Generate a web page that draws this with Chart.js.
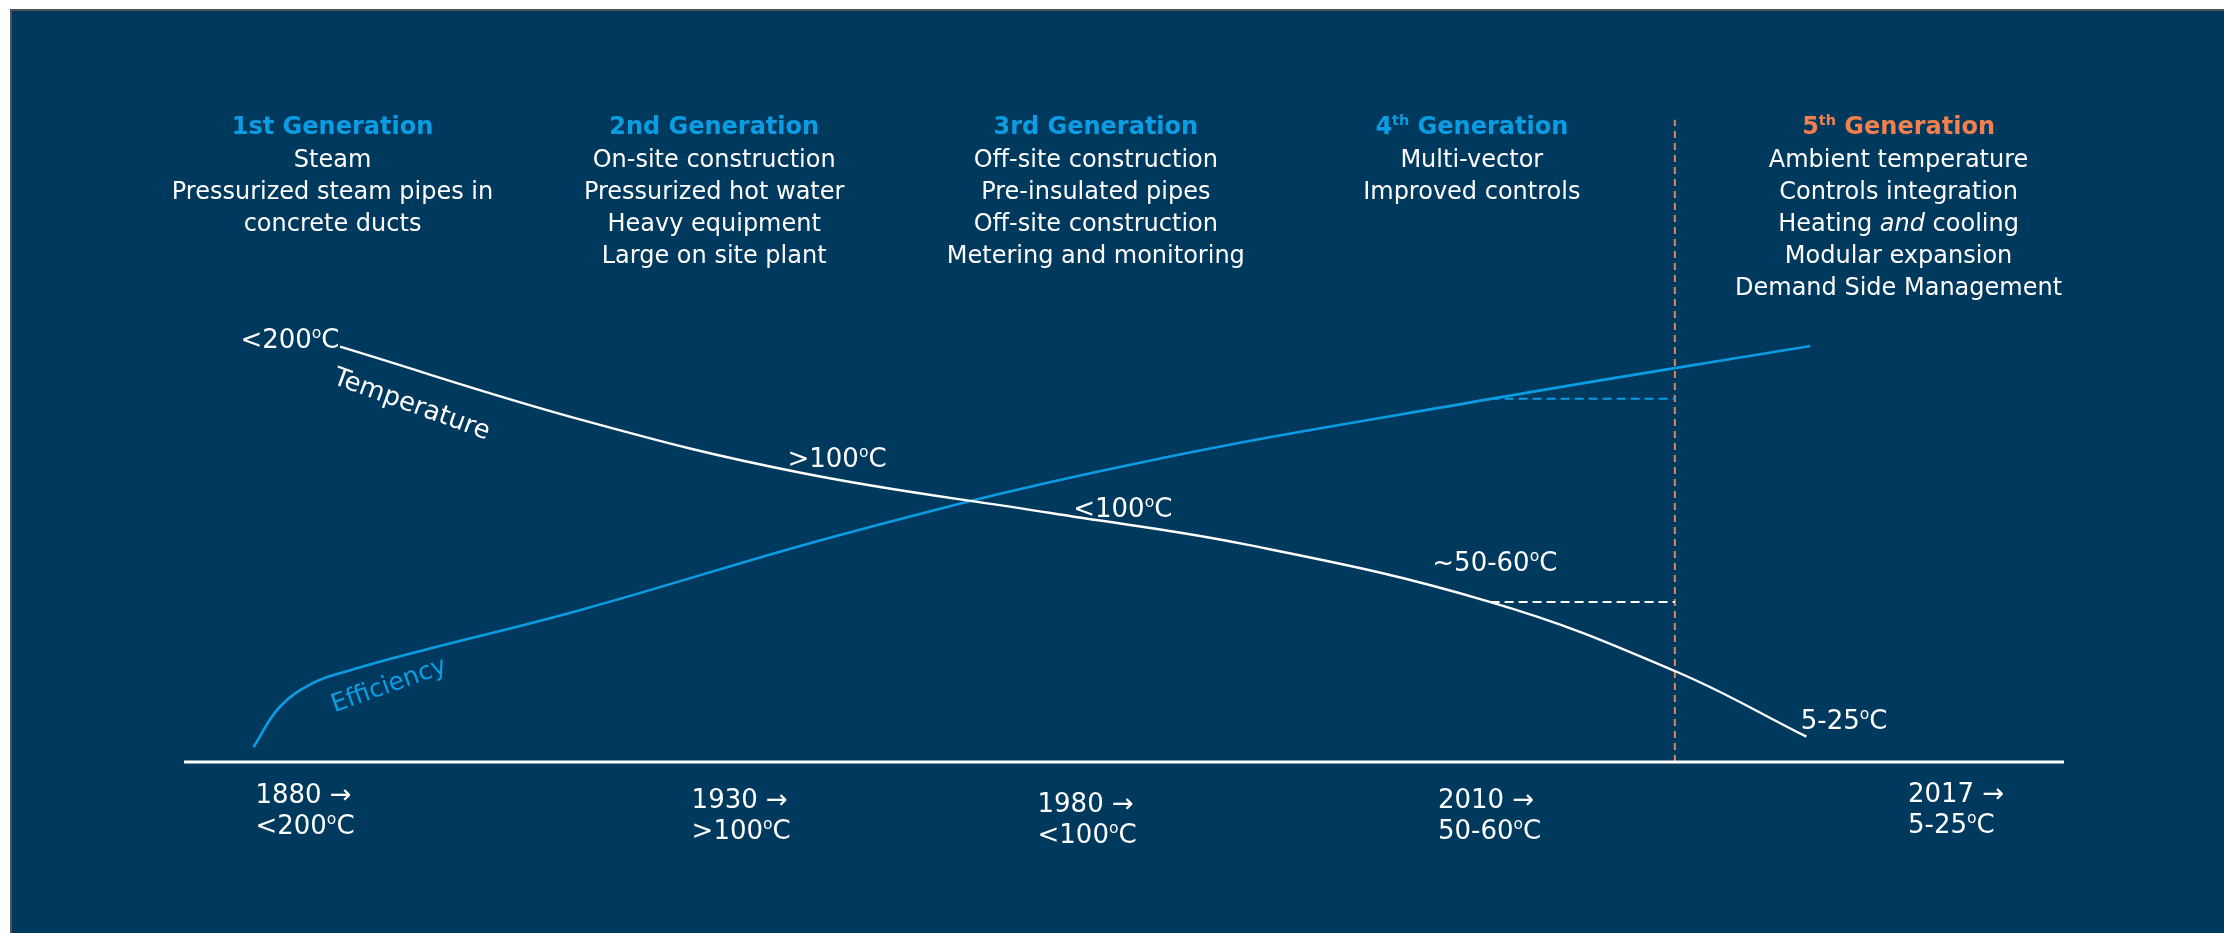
<!DOCTYPE html>
<html>
<head>
<meta charset="utf-8">
<script src="https://cdn.jsdelivr.net/npm/chart.js@4/dist/chart.umd.min.js"></script>
<style>
  html, body { margin: 0; padding: 0; background: #ffffff; overflow: hidden; }
  canvas { display: block; }
</style>
</head>
<body>
<canvas id="c" width="2224" height="933"></canvas>
<script>
// Position along the timeline (0–100) and relative level above the axis (0–100)
const tempX = [8.3, 21.2, 32.8, 46.1, 56.6, 69.5, 79.3, 86.3];
const tempY = [63.9, 52.6, 44.5, 38.3, 33.4, 24.6, 14.0, 3.9];
const effX  = [3.7, 5.1, 6.9, 8.7, 12.2, 21.1, 35.5, 50.6, 69.6, 86.5];
const effY  = [2.3, 8.5, 12.2, 14.0, 16.8, 23.4, 35.4, 45.9, 55.9, 64.0];

// Timeline eras
const eraPos   = [3.8, 27.0, 45.4, 66.7, 91.7];
const eraYears = ['1880 →', '1930 →', '1980 →', '2010 →', '2017 →'];
const eraTemps = ['<200{o}C', '>100{o}C', '<100{o}C', '50-60{o}C', '5-25{o}C'];

// Network generations ({..} = superscript, *..* = italic)
const genCenters = [7.9, 28.2, 48.5, 68.5, 91.2];
const genTitles  = ['1st Generation', '2nd Generation', '3rd Generation', '4{th} Generation', '5{th} Generation'];
const genItems = [
  ['Steam', 'Pressurized steam pipes in', 'concrete ducts'],
  ['On-site construction', 'Pressurized hot water', 'Heavy equipment', 'Large on site plant'],
  ['Off-site construction', 'Pre-insulated pipes', 'Off-site construction', 'Metering and monitoring'],
  ['Multi-vector', 'Improved controls'],
  ['Ambient temperature', 'Controls integration', 'Heating *and* cooling', 'Modular expansion', 'Demand Side Management']
];

// Supply temperature callouts along the temperature curve
const tempLabelText = ['<200{o}C', '>100{o}C', '<100{o}C', '~50-60{o}C', '5-25{o}C'];
const tempLabelX    = [3.0, 32.1, 47.3, 66.4, 86.0];
const tempLabelY    = [65.2, 46.9, 39.1, 30.8, 6.5];

// Reference levels at 2010 and the start of the 5th generation
const marker2010X = 69.5;
const fifthGenX   = 79.3;
const temp2010    = 24.6;
const eff2010     = 55.9;

const BG = '#00395e';
const BLUE = '#0b9de3';
const ORANGE = '#f0804e';
const WHITE = '#ffffff';
const FONT = '"DejaVu Sans", Verdana, sans-serif';

function pts(xs, ys) { return xs.map((x, i) => ({ x, y: ys[i] })); }

// Split marked-up text into styled runs
function parseRuns(s) {
  const runs = [];
  const re = /\{([^}]*)\}|\*([^*]*)\*|([^{*]+)/g;
  let m;
  while ((m = re.exec(s)) !== null) {
    if (m[1] !== undefined) runs.push({ t: m[1], sup: true });
    else if (m[2] !== undefined) runs.push({ t: m[2], it: true });
    else runs.push({ t: m[3] });
  }
  return runs;
}

function runFont(r, size, bold) {
  const sz = r.sup ? size * 0.6 : size;
  return (r.it ? 'italic ' : '') + (bold ? 'bold ' : '') + sz.toFixed(1) + 'px ' + FONT;
}

// Draw rich text; align 'left' | 'center'; y is the visual middle of the line
function richText(ctx, s, x, y, size, color, align, bold) {
  const runs = parseRuns(s);
  let total = 0;
  runs.forEach(r => { ctx.font = runFont(r, size, bold); r.w = ctx.measureText(r.t).width; total += r.w; });
  let cx = align === 'center' ? x - total / 2 : x;
  const base = y + size * 0.36;
  ctx.fillStyle = color;
  ctx.textAlign = 'left';
  ctx.textBaseline = 'alphabetic';
  runs.forEach(r => {
    ctx.font = runFont(r, size, bold);
    ctx.fillText(r.t, cx, r.sup ? base - size * 0.38 : base);
    cx += r.w;
  });
}

const backdrop = {
  id: 'backdrop',
  beforeDraw(chart) {
    const ctx = chart.ctx;
    ctx.save();
    ctx.fillStyle = '#ffffff';
    ctx.fillRect(0, 0, chart.width, chart.height);
    ctx.fillStyle = '#505050';
    ctx.fillRect(10, 9, chart.width - 10, chart.height - 9);
    ctx.fillStyle = BG;
    ctx.fillRect(12, 11, chart.width - 12, chart.height - 11);
    ctx.restore();
  }
};

const timelineText = {
  id: 'timelineText',
  afterDatasetsDraw(chart, args, opts) {
    const ctx = chart.ctx;
    const xs = chart.scales.x, ys = chart.scales.y;
    const area = chart.chartArea;
    ctx.save();

    // time axis
    ctx.strokeStyle = WHITE;
    ctx.lineWidth = 3;
    ctx.beginPath();
    ctx.moveTo(area.left, ys.getPixelForValue(0));
    ctx.lineTo(area.right, ys.getPixelForValue(0));
    ctx.stroke();

    // era labels beneath the axis
    const axisY = ys.getPixelForValue(0);
    eraPos.forEach((p, i) => {
      const px = xs.getPixelForValue(p);
      const drop = opts.eraDrop[i];
      richText(ctx, eraYears[i], px, axisY + 32 + drop, 26, WHITE, 'left', false);
      richText(ctx, eraTemps[i], px, axisY + 63 + drop, 26, WHITE, 'left', false);
    });

    // generation headings and descriptions
    genCenters.forEach((c, i) => {
      const px = xs.getPixelForValue(c);
      richText(ctx, genTitles[i], px, 125, 24, i === 4 ? ORANGE : BLUE, 'center', true);
      genItems[i].forEach((line, j) => {
        richText(ctx, line, px, 158 + j * 32, 24, WHITE, 'center', false);
      });
    });

    // temperature callouts
    tempLabelText.forEach((t, i) => {
      richText(ctx, t, xs.getPixelForValue(tempLabelX[i]), ys.getPixelForValue(tempLabelY[i]), 26, WHITE, 'left', false);
    });

    // curve names
    ctx.save();
    ctx.translate(xs.getPixelForValue(12.1), ys.getPixelForValue(54.9));
    ctx.rotate(20 * Math.PI / 180);
    ctx.font = '26px ' + FONT;
    ctx.fillStyle = WHITE;
    ctx.textAlign = 'center';
    ctx.textBaseline = 'middle';
    ctx.fillText('Temperature', 0, 0);
    ctx.restore();

    ctx.save();
    ctx.translate(xs.getPixelForValue(10.9), ys.getPixelForValue(11.7));
    ctx.rotate(-19.6 * Math.PI / 180);
    ctx.font = '25px ' + FONT;
    ctx.fillStyle = BLUE;
    ctx.textAlign = 'center';
    ctx.textBaseline = 'middle';
    ctx.fillText('Efficiency', 0, 0);
    ctx.restore();

    ctx.restore();
  }
};

new Chart(document.getElementById('c'), {
  type: 'line',
  data: {
    datasets: [
      {
        label: 'Temperature',
        data: pts(tempX, tempY),
        borderColor: WHITE,
        borderWidth: 2.4,
        tension: 0.4,
        pointRadius: 0,
        fill: false
      },
      {
        label: 'Efficiency',
        data: pts(effX, effY),
        borderColor: BLUE,
        borderWidth: 2.6,
        tension: 0.4,
        pointRadius: 0,
        fill: false
      },
      {
        label: 'Temperature 2010',
        data: [{ x: marker2010X, y: temp2010 }, { x: fifthGenX, y: temp2010 }],
        borderColor: WHITE,
        borderWidth: 2,
        borderDash: [9, 5],
        tension: 0,
        pointRadius: 0
      },
      {
        label: 'Efficiency 2010',
        data: [{ x: marker2010X, y: eff2010 }, { x: fifthGenX, y: eff2010 }],
        borderColor: BLUE,
        borderWidth: 2,
        borderDash: [9, 5],
        tension: 0,
        pointRadius: 0
      },
      {
        label: '5th generation',
        data: [{ x: fifthGenX, y: 0 }, { x: fifthGenX, y: 98.8 }],
        borderColor: '#e3855a',
        borderWidth: 2,
        borderDash: [7, 5],
        tension: 0,
        pointRadius: 0
      }
    ]
  },
  options: {
    responsive: false,
    devicePixelRatio: 1,
    animation: false,
    layout: { padding: { left: 184, right: 160, top: 112, bottom: 171 } },
    scales: {
      x: { type: 'linear', min: 0, max: 100, display: false },
      y: { type: 'linear', min: 0, max: 100, display: false }
    },
    plugins: {
      legend: { display: false },
      tooltip: { enabled: false },
      timelineText: { eraDrop: [0, 5, 9, 5, -1] }
    },
    elements: { line: { borderCapStyle: 'butt' } }
  },
  plugins: [backdrop, timelineText]
});
</script>
</body>
</html>
